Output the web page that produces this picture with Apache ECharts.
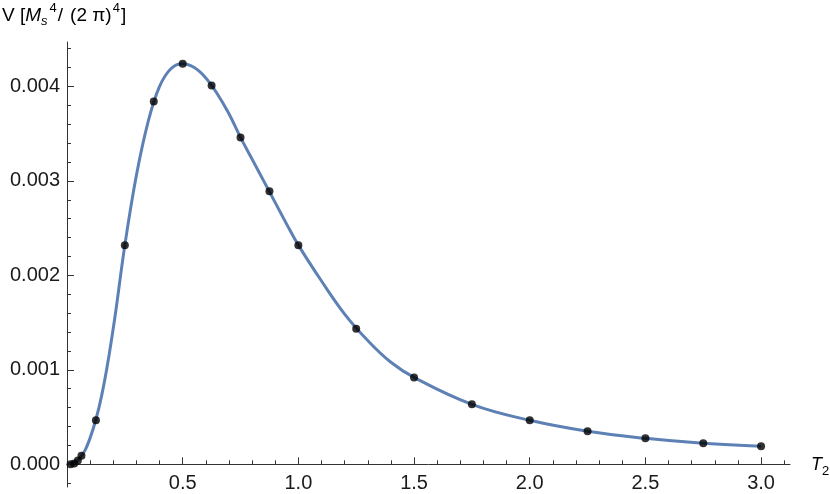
<!DOCTYPE html>
<html>
<head>
<meta charset="UTF-8">
<title>V vs T2</title>
<script src="https://cdn.jsdelivr.net/npm/echarts@6/dist/echarts.min.js"></script>
<style>
  html, body { margin: 0; padding: 0; background: #fff; }
  #chart { width: 830px; height: 494px; }
</style>
</head>
<body>
<div id="chart"></div>
<script>
// sample points (black dots)
const pointT = [0.015625, 0.03125, 0.046875, 0.0625, 0.125, 0.25, 0.375, 0.5, 0.625, 0.75,
                0.875, 1.0, 1.25, 1.5, 1.75, 2.0, 2.25, 2.5, 2.75, 3.0];
const pointV = [0.000001, 0.00001, 0.00004, 0.00009, 0.000466, 0.00232, 0.00384, 0.00424, 0.00401, 0.00346,
                0.00289, 0.00232, 0.001436, 0.00092, 0.000635, 0.000466, 0.00035, 0.000275, 0.000222, 0.00019];

// blue curve
const curveT = [0, 0.05, 0.1, 0.15, 0.2, 0.25, 0.3, 0.35, 0.4, 0.45, 0.5, 0.55, 0.6, 0.65, 0.7, 0.75,
                0.8, 0.85, 0.9, 0.95, 1.0, 1.1, 1.2, 1.3, 1.4, 1.5, 1.75, 2.0, 2.25, 2.5, 2.75, 3.0];
const curveV = [0, 0.00005, 0.00028, 0.00073, 0.00144, 0.00232, 0.00306, 0.00362, 0.004, 0.00419, 0.00424,
                0.0042, 0.00409, 0.00392, 0.00371, 0.00346, 0.00323, 0.003, 0.00277, 0.00254, 0.00232,
                0.00194, 0.00159, 0.00131, 0.00108, 0.00092, 0.000635, 0.000466, 0.00035, 0.000275,
                0.000222, 0.00019];

// tick labels
const xLabels = [0.5, 1.0, 1.5, 2.0, 2.5, 3.0];
const yLabels = [0, 0.001, 0.002, 0.003, 0.004];

const chart = echarts.init(document.getElementById('chart'));

const txt = '#1a1a1a';
const axisCol = '#333';
const font = 'Liberation Sans, Arial, sans-serif';

chart.setOption({
  animation: false,
  grid: {
    left: 67, right: 40, top: 42, bottom: 7,
    containLabel: false,
    outerBoundsMode: 'auto',
    outerBounds: { left: -100, top: -100, right: -100, bottom: -100 }
  },
  xAxis: {
    type: 'value',
    min: 0,
    max: 3.125,
    interval: 0.5,
    splitLine: { show: false },
    axisLine: { onZero: true, lineStyle: { color: axisCol, width: 1 } },
    axisTick: { inside: true, length: 7, customValues: xLabels, lineStyle: { color: axisCol } },
    minorTick: { show: true, splitNumber: 5, length: 4, lineStyle: { color: axisCol } },
    // labels under the zero line are added below as text, placed through the axis scale
    axisLabel: { show: false }
  },
  yAxis: {
    type: 'value',
    min: -0.00024,
    max: 0.00447,
    splitLine: { show: false },
    axisLine: { onZero: true, lineStyle: { color: axisCol, width: 1 } },
    axisTick: { inside: true, length: 7, customValues: yLabels, lineStyle: { color: axisCol } },
    minorTick: { show: true, splitNumber: 5, length: 4, lineStyle: { color: axisCol } },
    axisLabel: {
      customValues: yLabels,
      formatter: v => v.toFixed(3),
      fontFamily: font,
      fontSize: 20,
      color: txt,
      margin: 7
    }
  },
  series: [
    {
      name: 'curve',
      type: 'line',
      data: curveT.map((t, i) => [t, curveV[i]]),
      smooth: 0.4,
      showSymbol: false,
      symbol: 'none',
      lineStyle: { color: '#5E81B5', width: 3 },
      z: 2
    },
    {
      name: 'points',
      type: 'scatter',
      data: pointT.map((t, i) => [t, pointV[i]]),
      symbol: 'circle',
      symbolSize: 8,
      itemStyle: { color: '#000' },
      z: 3
    }
  ]
});

// x tick labels: positions come from the chart's own x scale
const tickTexts = xLabels.map((t, i) => {
  const p = chart.convertToPixel({ xAxisIndex: 0, yAxisIndex: 0 }, [t, 0]);
  return {
    type: 'text',
    id: 'xl' + i,
    x: p[0],
    y: p[1] + 9,
    style: {
      text: t.toFixed(1),
      align: 'center',
      verticalAlign: 'top',
      fontFamily: font,
      fontSize: 20,
      fill: txt
    }
  };
});

chart.setOption({
  graphic: [
    {
      type: 'text',
      id: 'yname',
      left: 2,
      top: 2,
      style: {
        text: '{n|V [}{i|M}{sub|s}{sup|4}{n|/}{p|(2 π)}{sup|4}{n|]}',
        rich: {
          n: { fontFamily: font, fontSize: 19, color: txt, lineHeight: 28, verticalAlign: 'middle' },
          p: { fontFamily: font, fontSize: 19, color: txt, lineHeight: 28, verticalAlign: 'middle', padding: [0, 0, 0, 7] },
          i: { fontFamily: font, fontStyle: 'italic', fontSize: 19, color: txt, lineHeight: 28, verticalAlign: 'middle' },
          sub: { fontFamily: font, fontStyle: 'italic', fontSize: 13, color: txt, lineHeight: 28, verticalAlign: 'bottom', padding: [0, 1, 2, 0] },
          sup: { fontFamily: font, fontSize: 13, color: txt, lineHeight: 28, verticalAlign: 'top', padding: [0, 1, 0, 1] }
        }
      }
    },
    {
      type: 'text',
      id: 'xname',
      left: 811,
      top: 456,
      style: {
        text: '{i|T}{sub|2}',
        rich: {
          i: { fontFamily: font, fontStyle: 'italic', fontSize: 18, color: txt, lineHeight: 26, verticalAlign: 'middle' },
          sub: { fontFamily: font, fontSize: 13, color: txt, lineHeight: 26, verticalAlign: 'bottom' }
        }
      }
    }
  ].concat(tickTexts)
});

window.addEventListener('resize', () => chart.resize());
</script>
</body>
</html>
